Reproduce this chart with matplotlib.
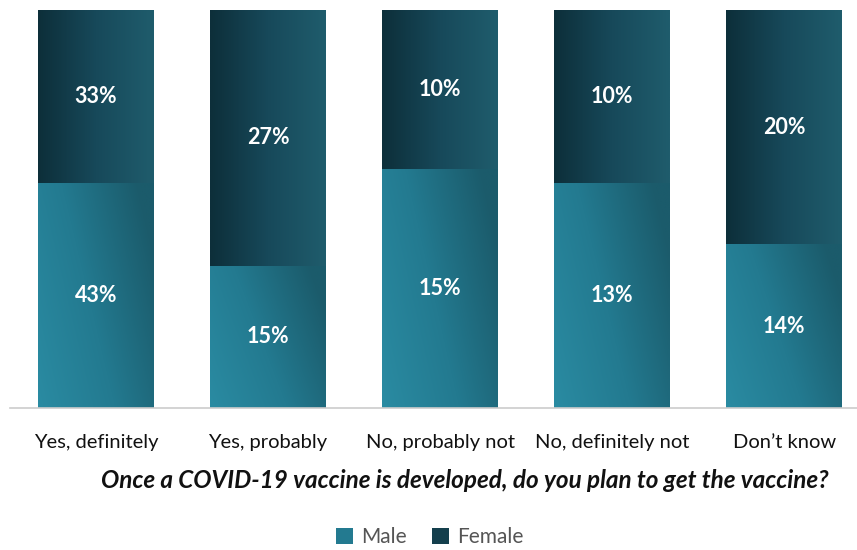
import numpy as np
import matplotlib.pyplot as plt
from matplotlib.colors import LinearSegmentedColormap
from matplotlib.patches import Patch

plt.rcParams['font.family'] = ['Lato', 'DejaVu Sans']

categories = ['Yes, definitely', 'Yes, probably', 'No, probably not',
              'No, definitely not', 'Don\u2019t know']
male = [43, 15, 15, 13, 14]
female = [33, 27, 10, 10, 20]

male = np.array(male, dtype=float)
female = np.array(female, dtype=float)
total = male + female
male_share = male / total
female_share = female / total

male_cmap = LinearSegmentedColormap.from_list('m', ['#2a8ba2', '#237a90', '#1b5b6b'])
female_cmap = LinearSegmentedColormap.from_list('f', ['#0d2f3a', '#17495a', '#1f5c6c'])

fig = plt.figure(figsize=(8.57, 5.5), dpi=100)
ax = fig.add_axes([10 / 857, 142 / 550, 847 / 857, 398 / 550])
x = np.arange(len(categories))
width = 0.67

male_bars = ax.bar(x, male_share, width, color='none')
female_bars = ax.bar(x, female_share, width, bottom=male_share, color='none')

# gradient fills clipped to each bar
gx, gy = np.meshgrid(np.linspace(0, 1, 64), np.linspace(0, 1, 64))
diag = np.clip(0.75 * gx + 0.35 * (1 - gy), 0, 1)
horiz = gx
for i in range(len(categories)):
    l = x[i] - width / 2
    r = x[i] + width / 2
    im = ax.imshow(diag, cmap=male_cmap, extent=(l, r, 0, male_share[i]),
                   origin='upper', aspect='auto', zorder=2, interpolation='bilinear')
    im.set_clip_path(male_bars[i])
    im2 = ax.imshow(horiz, cmap=female_cmap, extent=(l, r, male_share[i], 1),
                    origin='lower', aspect='auto', zorder=2, interpolation='bilinear')
    im2.set_clip_path(female_bars[i])
    ax.text(x[i], male_share[i] / 2, f'{int(male[i])}%', ha='center', va='center',
            color='white', fontsize=15.5, fontweight='bold', zorder=3)
    ax.text(x[i], male_share[i] + female_share[i] / 2, f'{int(female[i])}%',
            ha='center', va='center', color='white', fontsize=15.5,
            fontweight='bold', zorder=3)

ax.set_xlim(-0.5, 4.424)
ax.set_ylim(0, 1)
ax.set_yticks([])
ax.set_xticks(x)
ax.set_xticklabels(categories, fontsize=14.5, color='#111111')
ax.tick_params(axis='x', length=0, pad=19)
for s in ['top', 'right', 'left']:
    ax.spines[s].set_visible(False)
ax.spines['bottom'].set_color('#cccccc')
ax.spines['bottom'].set_linewidth(1.2)

fig.text(465 / 857, 1 - 481 / 550,
         'Once a COVID-19 vaccine is developed, do you plan to get the vaccine?',
         ha='center', va='center', fontsize=17.5, style='italic', fontweight='bold',
         color='#111111')

handles = [Patch(facecolor='#237a90', label='Male'),
           Patch(facecolor='#143f4d', label='Female')]
fig.legend(handles=handles, loc='center', bbox_to_anchor=(430 / 857, 1 - 537 / 550),
           ncol=2, frameon=False, fontsize=15, handlelength=0.8, handleheight=0.8,
           handletextpad=0.4, columnspacing=1.2, labelcolor='#555555')

fig.savefig('out.png', dpi=100)
